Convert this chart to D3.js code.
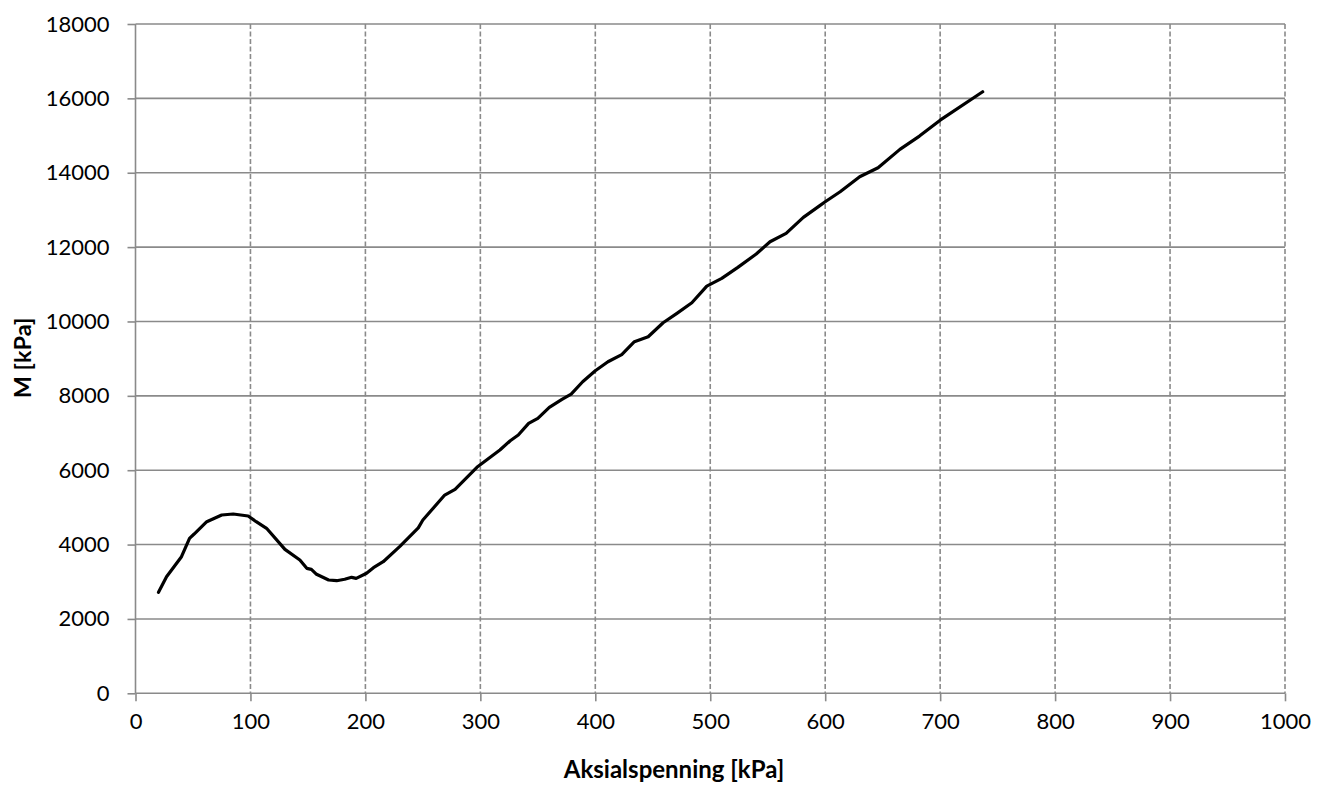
<!DOCTYPE html>
<html>
<head>
<meta charset="utf-8">
<script src="https://cdn.jsdelivr.net/npm/d3@7"></script>
<style>
  html, body { margin: 0; padding: 0; background: #ffffff; }
  svg { display: block; font-family: Lato, "Open Sans", sans-serif; }
</style>
</head>
<body>
<svg id="chart" width="1328" height="787"></svg>
<script>
// Axial stress (kPa) and constrained modulus M (kPa)
const stress = [20, 27, 40, 47, 51, 62, 75, 85, 98, 105, 114, 130, 143, 149, 153, 157.5, 168, 175, 182, 188, 192, 201, 207, 215.5, 230, 246, 250, 269, 278, 297, 317, 326, 333, 342, 350, 360, 371, 379, 389, 400, 411, 423, 434, 446, 459, 471, 484, 497, 510, 524, 540, 552, 566, 581, 595, 600, 613, 630, 646, 665, 682, 700, 737];
const modulus = [2715, 3135, 3673, 4168, 4283, 4615, 4795, 4822, 4768, 4615, 4437, 3872, 3585, 3361, 3334, 3200, 3047, 3028, 3066, 3119, 3092, 3227, 3378, 3539, 3950, 4450, 4660, 5332, 5486, 6077, 6542, 6793, 6946, 7260, 7395, 7691, 7906, 8048, 8379, 8675, 8917, 9110, 9455, 9589, 9966, 10218, 10503, 10952, 11159, 11455, 11813, 12144, 12369, 12800, 13108, 13219, 13488, 13892, 14134, 14628, 14986, 15413, 16177];

const xTicks = [0, 100, 200, 300, 400, 500, 600, 700, 800, 900, 1000];
const yTicks = [0, 2000, 4000, 6000, 8000, 10000, 12000, 14000, 16000, 18000];

const xTitle = "Aksialspenning [kPa]";
const yTitle = "M [kPa]";

const svg = d3.select("#chart");
const plotLeft = 135.5, plotRight = 1285, plotTop = 24, plotBottom = 693.3;

const x = d3.scaleLinear().domain([0, 1000]).range([plotLeft, plotRight]);
const y = d3.scaleLinear().domain([0, 18000]).range([plotBottom, plotTop]);

const gridColor = "#8a8a8a";

// horizontal gridlines (solid)
svg.append("g")
  .selectAll("line")
  .data(yTicks.filter(d => d > 0))
  .join("line")
  .attr("x1", x(0)).attr("x2", x(1000))
  .attr("y1", d => y(d)).attr("y2", d => y(d))
  .attr("stroke", gridColor).attr("stroke-width", 1.6);

// vertical gridlines (dashed)
svg.append("g")
  .selectAll("line")
  .data(xTicks.filter(d => d > 0))
  .join("line")
  .attr("x1", d => x(d)).attr("x2", d => x(d))
  .attr("y1", y(18000)).attr("y2", y(0))
  .attr("stroke", gridColor).attr("stroke-width", 1.6)
  .attr("stroke-dasharray", "5,2.5");

// y axis
const yAxis = svg.append("g")
  .attr("transform", `translate(${plotLeft},0)`)
  .call(d3.axisLeft(y).tickValues(yTicks).tickSize(8).tickPadding(18).tickFormat(d3.format("d")));

// x axis
const xAxis = svg.append("g")
  .attr("transform", `translate(0,${plotBottom})`)
  .call(d3.axisBottom(x).tickValues(xTicks).tickSize(8).tickPadding(12).tickFormat(d3.format("d")));

[yAxis, xAxis].forEach(g => {
  g.select(".domain").attr("stroke", gridColor).attr("stroke-width", 1.6);
  g.selectAll(".tick line").attr("stroke", gridColor).attr("stroke-width", 1.6);
  g.selectAll(".tick text")
    .attr("fill", "#000")
    .style("font-family", "Lato, 'Open Sans', sans-serif")
    .style("font-size", "22px");
});
yAxis.select(".domain").attr("d", `M0,${y(18000)}V${plotBottom}`);
xAxis.select(".domain").attr("d", `M${plotLeft},0H${plotRight}`);

// data line
const line = d3.line()
  .x((d, i) => x(stress[i]))
  .y(d => y(d));

svg.append("path")
  .datum(modulus)
  .attr("d", line)
  .attr("fill", "none")
  .attr("stroke", "#000")
  .attr("stroke-width", 3.2)
  .attr("stroke-linejoin", "round")
  .attr("stroke-linecap", "round");

// axis titles
svg.append("text")
  .attr("x", 674).attr("y", 778)
  .attr("text-anchor", "middle")
  .style("font-size", "24px").style("font-weight", "bold")
  .text(xTitle);

svg.append("text")
  .attr("transform", "translate(31,358) rotate(-90)")
  .attr("text-anchor", "middle")
  .style("font-size", "23.5px").style("font-weight", "bold")
  .text(yTitle);
</script>
</body>
</html>
